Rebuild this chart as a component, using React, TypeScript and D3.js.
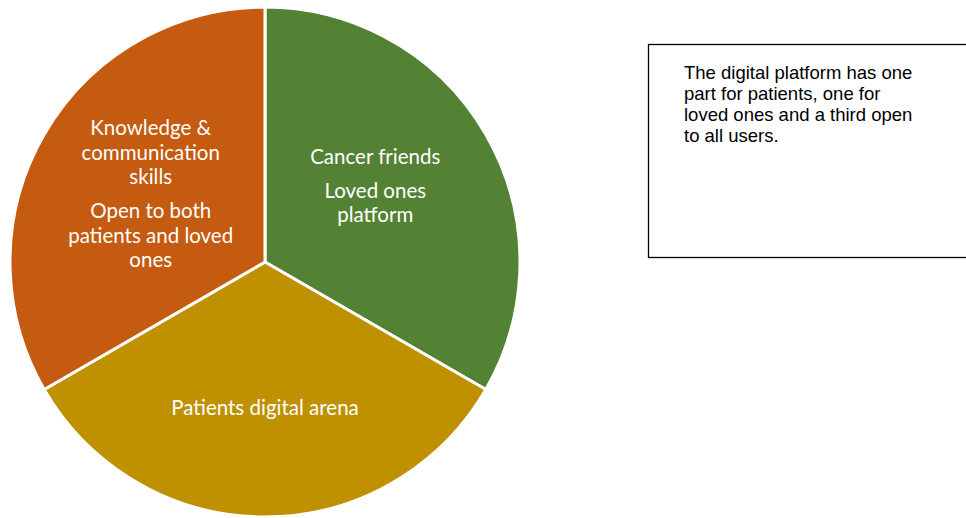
import React from "react";
import * as d3 from "d3";

const categories = ["Cancer friends / Loved ones platform", "Patients digital arena", "Knowledge & communication skills"];
const values = [1, 1, 1];
const colors = ["#548235", "#BF9000", "#C55A11"];
const labelParagraphs: string[][][] = [
  [["Cancer friends"], ["Loved ones", "platform"]],
  [["Patients digital arena"]],
  [["Knowledge &", "communication", "skills"], ["Open to both", "patients and loved", "ones"]],
];
const noteLines = [
  "The digital platform has one",
  "part for patients, one for",
  "loved ones and a third open",
  "to all users.",
];

const W = 966;
const H = 518;
const cx = 265;
const cy = 262;
const R = 255;
const lineH = 24.5;
const paraGap = 9.5;
// small layout nudges for label blocks (px)
const labelNudgeX = [-1, 0, -3];
const labelNudgeY = [-4, -1, 4];

export default function App() {
  const pie = d3.pie<number>().sort(null).startAngle(0).endAngle(2 * Math.PI);
  const arcs = pie(values);
  const arc = d3.arc<d3.PieArcDatum<number>>().innerRadius(0).outerRadius(R);
  const labelArc = d3.arc<d3.PieArcDatum<number>>().innerRadius(146).outerRadius(146);

  return (
    <svg width={W} height={H} style={{ position: "absolute", left: 0, top: 0, background: "#fff" }}>
      <g transform={`translate(${cx},${cy})`}>
        {arcs.map((a, i) => (
          <path key={categories[i]} d={arc(a) || ""} fill={colors[i]} stroke="#fff" strokeWidth={3} strokeLinejoin="round" />
        ))}
        {arcs.map((a, i) => {
          const [lx, ly] = labelArc.centroid(a);
          const paras = labelParagraphs[i];
          const rows: { t: string; y: number }[] = [];
          let y = 0;
          paras.forEach((p, pi) => {
            if (pi > 0) y += paraGap;
            p.forEach((t, li) => {
              if (li > 0 || pi > 0) y += lineH;
              rows.push({ t, y });
            });
          });
          const off = y / 2;
          return (
            <g key={"l" + i} transform={`translate(${lx * 0.88 + labelNudgeX[i]},${ly + labelNudgeY[i]})`}>
              {rows.map((r, k) => (
                <text
                  key={k}
                  x={0}
                  y={r.y - off}
                  textAnchor="middle"
                  dominantBaseline="central"
                  fill="#fff"
                  fontFamily="Lato, 'Open Sans', sans-serif"
                  fontSize={20.5}
                >
                  {r.t}
                </text>
              ))}
            </g>
          );
        })}
      </g>
      <rect x={648.5} y={44.5} width={330} height={213} fill="#fff" stroke="#000" strokeWidth={1.3} />
      {noteLines.map((t, i) => (
        <text key={t} x={684} y={78.5 + i * 21.1} fontFamily="'Liberation Sans', Arial, sans-serif" fontSize={18.5} fill="#000">
          {t}
        </text>
      ))}
    </svg>
  );
}
